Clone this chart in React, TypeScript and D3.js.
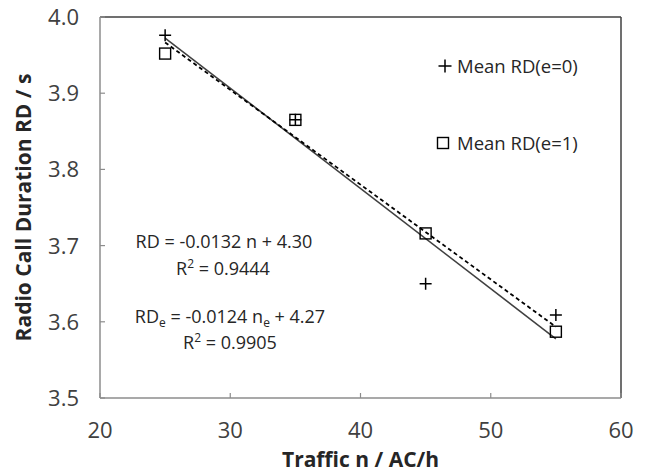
import React from "react";
import * as d3 from "d3";

const traffic = [25, 35, 45, 55];
const rdE0 = [3.976, 3.865, 3.65, 3.609];
const rdE1 = [3.952, 3.865, 3.716, 3.587];
const xTicks = [20, 30, 40, 50, 60];
const yTicks = [3.5, 3.6, 3.7, 3.8, 3.9, 4.0];
const legendLabels = ["Mean RD(e=0)", "Mean RD(e=1)"];

function fit(xs: number[], ys: number[]) {
  const mx = d3.mean(xs)!;
  const my = d3.mean(ys)!;
  let sxy = 0, sxx = 0;
  xs.forEach((x, i) => {
    sxy += (x - mx) * (ys[i] - my);
    sxx += (x - mx) * (x - mx);
  });
  const slope = sxy / sxx;
  return { slope, intercept: my - slope * mx };
}

const W = 646, H = 473;
const L = 100, R = 621, T = 17, B = 398;
const FONT = "'Open Sans', sans-serif";

export default function App() {
  const x = d3.scaleLinear().domain([20, 60]).range([L, R]);
  const y = d3.scaleLinear().domain([3.5, 4.0]).range([B, T]);
  const f0 = fit(traffic, rdE0);
  const f1 = fit(traffic, rdE1);
  const xr = d3.extent(traffic) as [number, number];
  const line = d3
    .line<number>()
    .x((d) => x(d))
    .y((d) => y(d));
  const l0 = line.y((d) => y(f0.slope * d + f0.intercept))(xr)!;
  const l1 = d3.line<number>().x((d) => x(d)).y((d) => y(f1.slope * d + f1.intercept))(xr)!;

  const plus = (cx: number, cy: number, s = 6, key?: any) => (
    <path key={key} d={`M${cx - s},${cy}H${cx + s}M${cx},${cy - s}V${cy + s}`} stroke="#000" strokeWidth={1.5} fill="none" />
  );
  const square = (cx: number, cy: number, s = 5.5, key?: any) => (
    <rect key={key} x={cx - s} y={cy - s} width={2 * s} height={2 * s} stroke="#000" strokeWidth={1.4} fill="none" />
  );

  return (
    <svg width={W} height={H} style={{ position: "absolute", left: 0, top: 0, background: "#fff" }} fontFamily={FONT}>
      <rect x={0} y={0} width={W} height={H} fill="#fff" />
      {/* frame */}
      <line x1={L} x2={R} y1={T} y2={T} stroke="#404040" strokeWidth={1.5} />
      <line x1={R} x2={R} y1={T} y2={B} stroke="#404040" strokeWidth={1.5} />
      <line x1={L} x2={L} y1={T} y2={B} stroke="#8c8c8c" strokeWidth={1.5} />
      <line x1={L} x2={R} y1={B} y2={B} stroke="#8c8c8c" strokeWidth={1.5} />
      {/* ticks */}
      {yTicks.map((t) => (
        <g key={"y" + t}>
          <line x1={L} x2={L + 5} y1={y(t)} y2={y(t)} stroke="#8c8c8c" strokeWidth={1.2} />
          <text x={L - 21} y={y(t) + 8} textAnchor="end" fontSize={22} fill="#404040">
            {t.toFixed(1)}
          </text>
        </g>
      ))}
      {xTicks.map((t) => (
        <g key={"x" + t}>
          <line x1={x(t)} x2={x(t)} y1={B} y2={B - 5} stroke="#8c8c8c" strokeWidth={1.2} />
          <text x={x(t)} y={B + 40} textAnchor="middle" fontSize={22} fill="#404040">
            {t}
          </text>
        </g>
      ))}
      {/* axis titles */}
      <text x={(L + R) / 2} y={467} textAnchor="middle" fontSize={21} fontWeight="bold" fill="#262626">
        Traffic n / AC/h
      </text>
      <text
        transform={`translate(31,${(T + B) / 2}) rotate(-90)`}
        textAnchor="middle"
        fontSize={21}
        fontWeight="bold"
        fill="#262626"
      >
        Radio Call Duration RD / s
      </text>
      {/* trendlines */}
      <path d={l0} stroke="#404040" strokeWidth={1.5} fill="none" />
      <path d={l1} stroke="#000" strokeWidth={1.8} strokeDasharray="4,3" fill="none" />
      {/* points */}
      {traffic.map((t, i) => plus(x(t), y(rdE0[i]), 6, "p" + i))}
      {traffic.map((t, i) => square(x(t), y(rdE1[i]), 5.5, "s" + i))}
      {/* legend */}
      {plus(445, 66, 6.5)}
      <text x={457} y={73} fontSize={18.5} fill="#262626">{legendLabels[0]}</text>
      {square(443, 143, 5.5)}
      <text x={457} y={150} fontSize={18.5} fill="#262626">{legendLabels[1]}</text>
      {/* equations */}
      <text x={224} y={248} textAnchor="middle" fontSize={18} fill="#262626">
        RD = -0.0132 n + 4.30
      </text>
      <text x={223} y={275} textAnchor="middle" fontSize={18} fill="#262626">
        R<tspan fontSize={12} dy={-7}>2</tspan><tspan dy={7}> = 0.9444</tspan>
      </text>
      <text x={230} y={323} textAnchor="middle" fontSize={18} fill="#262626">
        RD<tspan fontSize={12} dy={4}>e</tspan><tspan dy={-4}> = -0.0124 n</tspan><tspan fontSize={12} dy={4}>e</tspan><tspan dy={-4}> + 4.27</tspan>
      </text>
      <text x={230} y={349} textAnchor="middle" fontSize={18} fill="#262626">
        R<tspan fontSize={12} dy={-7}>2</tspan><tspan dy={7}> = 0.9905</tspan>
      </text>
    </svg>
  );
}
